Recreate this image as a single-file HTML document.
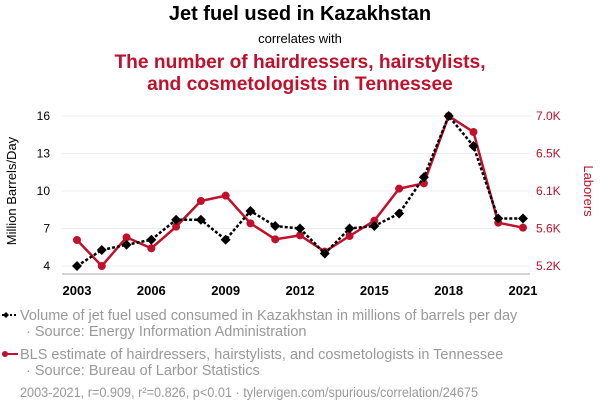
<!DOCTYPE html>
<html><head><meta charset="utf-8"><style>
body{margin:0;background:#fff;width:600px;height:414px;overflow:hidden;font-family:"Liberation Sans",sans-serif}
svg text{font-family:"Liberation Sans",sans-serif}
</style></head><body>
<svg id="chart" width="600" height="414" xmlns="http://www.w3.org/2000/svg">
<text x="300" y="20" text-anchor="middle" font-size="20" font-weight="bold" fill="#000">Jet fuel used in Kazakhstan</text>
<text x="300" y="43" text-anchor="middle" font-size="13" fill="#000">correlates with</text>
<text x="300" y="68" text-anchor="middle" font-size="19.2" font-weight="bold" fill="#c0102c">The number of hairdressers, hairstylists,</text>
<text x="300" y="90" text-anchor="middle" font-size="19.2" font-weight="bold" fill="#c0102c">and cosmetologists in Tennessee</text>
<g id="grid"></g><g id="axes"></g><g id="series"></g>
<text transform="translate(16,191) rotate(-90)" text-anchor="middle" font-size="13" fill="#000">Million Barrels/Day</text>
<text transform="translate(584,191) rotate(90)" text-anchor="middle" font-size="13" fill="#c0102c">Laborers</text>
<g>
<line x1="2" y1="315" x2="18" y2="315" stroke="#000" stroke-width="2" stroke-dasharray="2,2"/>
<path d="M3 315 L6 312 L9 315 L6 318Z" fill="#000"/>
<text x="20" y="320" font-size="14.5" fill="#999">Volume of jet fuel used consumed in Kazakhstan in millions of barrels per day</text>
<text x="26" y="336" font-size="14.5" fill="#999">· Source: Energy Information Administration</text>
</g>
<g>
<line x1="2" y1="354" x2="18" y2="354" stroke="#c0102c" stroke-width="2"/>
<circle cx="5" cy="354" r="3" fill="#c0102c"/>
<text x="20" y="359" font-size="14.5" fill="#999">BLS estimate of hairdressers, hairstylists, and cosmetologists in Tennessee</text>
<text x="26" y="375" font-size="14.5" fill="#999">· Source: Bureau of Larbor Statistics</text>
</g>
<text x="20" y="397" font-size="14" textLength="458" lengthAdjust="spacingAndGlyphs" fill="#999">2003-2021, r=0.909, r²=0.826, p&lt;0.01 · tylervigen.com/spurious/correlation/24675</text>
</svg>
<script>
const years=[2003,2004,2005,2006,2007,2008,2009,2010,2011,2012,2013,2014,2015,2016,2017,2018,2019,2020,2021];
const jetFuel=[4.0,5.28,5.7,6.1,7.7,7.7,6.1,8.4,7.2,7.0,5.0,7.0,7.2,8.2,11.1,16,13.6,7.8,7.8];
const laborers=[5462,5150,5494,5362,5622,5930,5994,5662,5470,5518,5322,5510,5694,6078,6142,6950,6758,5670,5610];
const leftTicks=[4,7,10,13,16];
const rightTicks=[5150,5600,6050,6500,6950];
const rightTickLabels=["5.2K","5.6K","6.1K","6.5K","7.0K"];
const xTicks=[2003,2006,2009,2012,2015,2018,2021];
const NS="http://www.w3.org/2000/svg";
const x=y=>77+(y-2003)*(446/18);
const yl=v=>266-(v-4)*12.5;
const yr=v=>266-(v-5150)*(150/1800);
function mk(tag,attrs,parent){const e=document.createElementNS(NS,tag);for(const k in attrs)e.setAttribute(k,attrs[k]);document.getElementById(parent).appendChild(e);return e;}
leftTicks.forEach((t,i)=>{
 const g=mk('line',{x1:62,x2:530,y1:yl(t),y2:yl(t),stroke:'#eee','stroke-width':1},'grid');
 
 
 const l=mk('text',{x:50,y:yl(t)+4,'text-anchor':'end','font-size':12,fill:'#000'},'axes');l.textContent=t;
 
 
});
rightTicks.forEach((t,i)=>{
 const l=mk('text',{x:536,y:yr(t)+4,'font-size':12,fill:'#c0102c'},'axes');l.textContent=rightTickLabels[i];
 
 
});
const ax=mk('line',{x1:62,x2:530,y1:274,y2:274,stroke:'#aaa','stroke-width':1},'axes');


xTicks.forEach(t=>{
 const l=mk('text',{x:x(t),y:295,'text-anchor':'middle','font-size':13,'font-weight':'bold',fill:'#000'},'axes');l.textContent=t;
 
 
});
const rp=mk('polyline',{points:years.map((y,i)=>x(y)+','+yr(laborers[i])).join(' '),fill:'none',stroke:'#c0102c','stroke-width':2.5},'series');


years.forEach((y,i)=>{
 const c=mk('circle',{cx:x(y),cy:yr(laborers[i]),r:4,fill:'#c0102c'},'series');
 
 
});
const bp=mk('polyline',{points:years.map((y,i)=>x(y)+','+yl(jetFuel[i])).join(' '),fill:'none',stroke:'#000','stroke-width':2.5,'stroke-dasharray':'3,2'},'series');


years.forEach((y,i)=>{
 const cx=x(y),cy=yl(jetFuel[i]);
 const d=mk('path',{d:`M${cx} ${cy-5}L${cx+5} ${cy}L${cx} ${cy+5}L${cx-5} ${cy}Z`,fill:'#000'},'series');
 
 
});
</script>
</body></html>
